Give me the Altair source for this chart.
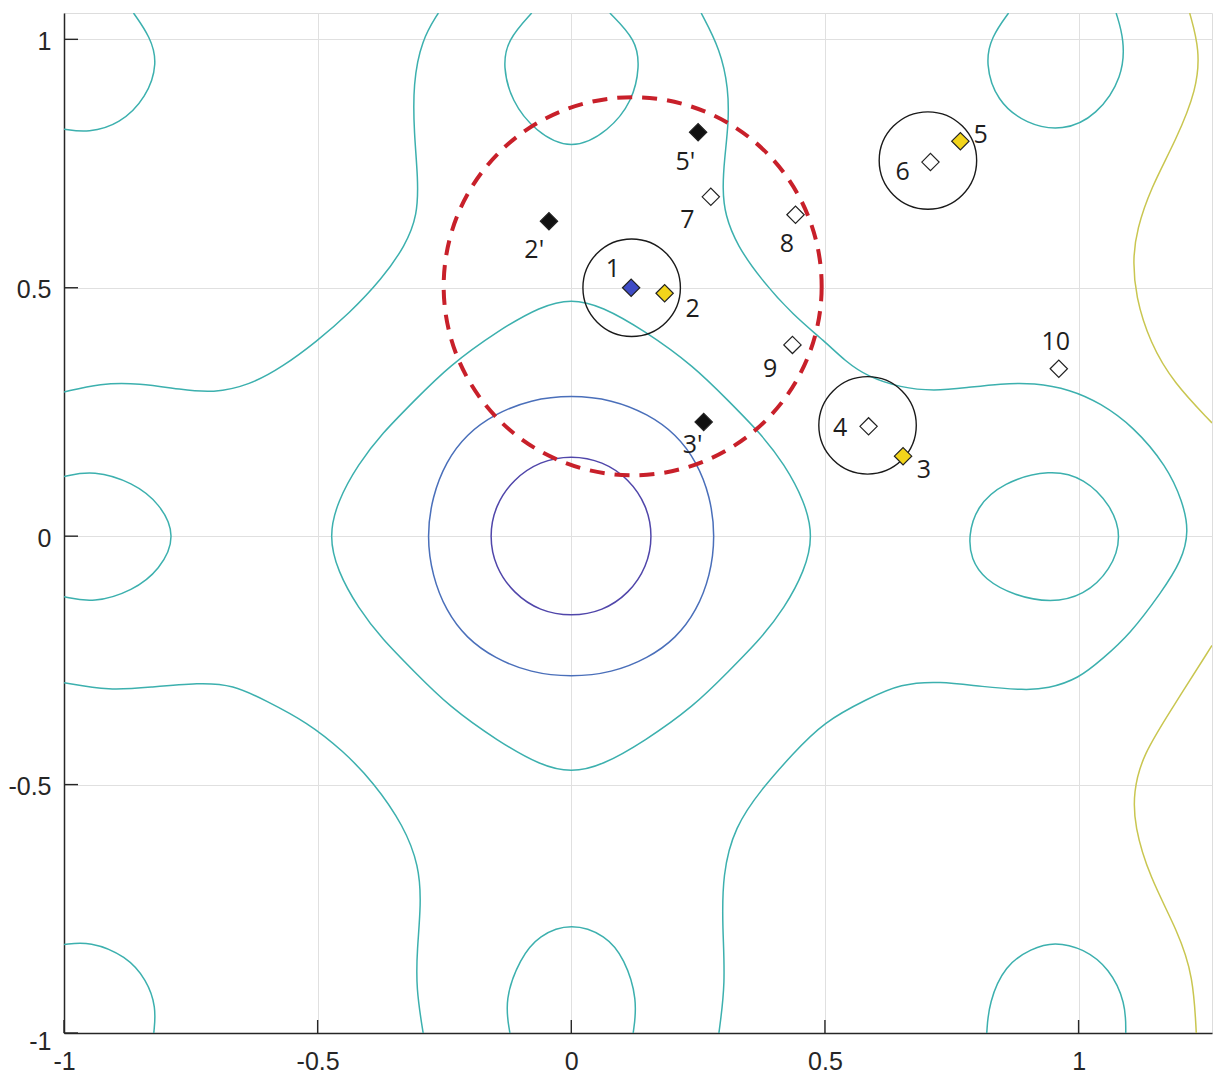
import altair as alt
import pandas as pd

# ---------------- axes ----------------
X_DOMAIN = [-1, 1.263]
Y_DOMAIN = [-1, 1.053]
TICKS = [-1, -0.5, 0, 0.5, 1]

# ---------------- contour curves ----------------
# closed curves
purple_x = [0.0, 0.062, 0.114, 0.149, 0.161, 0.149, 0.114, 0.062, 0.0, -0.062, -0.114, -0.150, -0.162, -0.150, -0.114, -0.062]
purple_y = [0.163, 0.151, 0.115, 0.062, 0.0, -0.062, -0.115, -0.151, -0.162, -0.151, -0.115, -0.062, 0.0, 0.062, 0.115, 0.151]

blue_x = [0.0, 0.080, 0.151, 0.207, 0.247, 0.274, 0.284, 0.274, 0.247, 0.207, 0.151, 0.080,
          0.0, -0.080, -0.151, -0.207, -0.247, -0.274, -0.285, -0.274, -0.247, -0.207, -0.151, -0.080]
blue_y = [0.284, 0.275, 0.246, 0.205, 0.150, 0.080, 0.0, -0.080, -0.150, -0.205, -0.246, -0.275,
          -0.284, -0.275, -0.246, -0.205, -0.150, -0.080, 0.0, 0.080, 0.150, 0.205, 0.246, 0.275]

diamond_x = [0.0, 0.060, 0.144, 0.242, 0.310, 0.373, 0.420, 0.460, 0.477, 0.460, 0.420, 0.373, 0.310, 0.242, 0.144, 0.060,
             0.0, -0.060, -0.144, -0.242, -0.310, -0.373, -0.420, -0.461, -0.478, -0.461, -0.420, -0.373, -0.310, -0.242, -0.144, -0.060]
diamond_y = [0.478, 0.463, 0.414, 0.342, 0.272, 0.207, 0.145, 0.070, 0.0, -0.070, -0.145, -0.207, -0.272, -0.342, -0.413, -0.462,
             -0.476, -0.462, -0.413, -0.342, -0.272, -0.207, -0.145, -0.070, 0.0, 0.070, 0.145, 0.207, 0.272, 0.342, 0.414, 0.463]

rcircle_x = [0.783, 0.798, 0.850, 0.944, 1.012, 1.064, 1.086, 1.064, 1.010, 0.945, 0.874, 0.814, 0.788]
rcircle_y = [0.0, 0.058, 0.108, 0.135, 0.117, 0.062, 0.0, -0.068, -0.120, -0.134, -0.120, -0.087, -0.046]

# open curves (cut by the plot frame)
lcircle_x = [-1.0, -0.942, -0.864, -0.811, -0.778, -0.811, -0.864, -0.942, -1.0]
lcircle_y = [0.120, 0.133, 0.108, 0.066, 0.0, -0.068, -0.110, -0.135, -0.122]

tcircle_x = [-0.078, -0.126, -0.135, -0.118, -0.072, 0.0, 0.074, 0.121, 0.135, 0.128, 0.076]
tcircle_y = [1.053, 0.999, 0.945, 0.876, 0.815, 0.775, 0.815, 0.876, 0.945, 0.999, 1.053]

bcircle_x = [-0.121, -0.132, -0.101, -0.064, 0.0, 0.068, 0.105, 0.131, 0.122]
bcircle_y = [-1.0, -0.933, -0.850, -0.803, -0.778, -0.803, -0.850, -0.933, -1.0]

tl_x = [-0.863, -0.830, -0.815, -0.837, -0.890, -0.952, -1.0]
tl_y = [1.053, 1.005, 0.952, 0.883, 0.829, 0.812, 0.819]

tr_x = [0.862, 0.828, 0.816, 0.838, 0.897, 0.969, 1.036, 1.088, 1.090, 1.074]
tr_y = [1.053, 1.005, 0.952, 0.876, 0.829, 0.815, 0.846, 0.925, 1.000, 1.053]

bl_x = [-1.0, -0.949, -0.877, -0.837, -0.818, -0.823]
bl_y = [-0.822, -0.815, -0.845, -0.893, -0.948, -1.0]

br_x = [0.819, 0.823, 0.855, 0.907, 0.952, 1.010, 1.061, 1.093, 1.093]
br_y = [-1.0, -0.939, -0.863, -0.830, -0.816, -0.830, -0.870, -0.939, -1.0]

netul_x = [-0.262, -0.295, -0.312, -0.310, -0.302, -0.303, -0.327, -0.373, -0.438, -0.503, -0.569, -0.634, -0.706, -0.770, -0.851, -0.929, -1.0]
netul_y = [1.053, 0.999, 0.911, 0.811, 0.720, 0.646, 0.585, 0.518, 0.448, 0.391, 0.341, 0.304, 0.288, 0.295, 0.308, 0.308, 0.290]

netll_x = [-1.0, -0.910, -0.831, -0.733, -0.667, -0.602, -0.520, -0.450, -0.390, -0.330, -0.300, -0.296, -0.304, -0.306, -0.292]
netll_y = [-0.295, -0.311, -0.304, -0.295, -0.299, -0.331, -0.375, -0.432, -0.495, -0.583, -0.664, -0.740, -0.832, -0.910, -1.0]

netr_x = [0.256, 0.294, 0.310, 0.310, 0.302, 0.298, 0.303, 0.327, 0.373, 0.438, 0.500, 0.540, 0.584, 0.649, 0.715, 0.780,
          0.846, 0.912, 0.984, 1.043, 1.108, 1.174, 1.205, 1.218, 1.203, 1.164, 1.100, 1.048, 1.000, 0.939, 0.894, 0.810,
          0.726, 0.649, 0.585, 0.497, 0.435, 0.375, 0.322, 0.298, 0.298, 0.304, 0.291]
netr_y = [1.053, 0.979, 0.900, 0.830, 0.760, 0.700, 0.646, 0.585, 0.518, 0.444, 0.392, 0.352, 0.321, 0.299, 0.292, 0.299,
          0.307, 0.309, 0.295, 0.268, 0.221, 0.141, 0.070, 0.010, -0.050, -0.112, -0.199, -0.246, -0.287, -0.307, -0.310, -0.303,
          -0.292, -0.297, -0.327, -0.374, -0.440, -0.509, -0.585, -0.680, -0.790, -0.899, -1.0]

yelup_x = [1.219, 1.239, 1.233, 1.193, 1.141, 1.115, 1.107, 1.112, 1.141, 1.187, 1.263]
yelup_y = [1.053, 0.979, 0.899, 0.799, 0.698, 0.617, 0.560, 0.483, 0.389, 0.309, 0.228]

yello_x = [1.263, 1.184, 1.126, 1.108, 1.110, 1.139, 1.197, 1.226, 1.232]
yello_y = [-0.220, -0.347, -0.441, -0.515, -0.583, -0.684, -0.798, -0.886, -1.0]

closed_curves = [("purple", "lvl1", purple_x, purple_y), ("blue", "lvl2", blue_x, blue_y),
                 ("diamond", "lvl3", diamond_x, diamond_y), ("rcircle", "lvl3", rcircle_x, rcircle_y)]
open_curves = [("lcircle", "lvl3", lcircle_x, lcircle_y), ("tcircle", "lvl3", tcircle_x, tcircle_y),
               ("bcircle", "lvl3", bcircle_x, bcircle_y), ("tl", "lvl3", tl_x, tl_y), ("tr", "lvl3", tr_x, tr_y),
               ("bl", "lvl3", bl_x, bl_y), ("br", "lvl3", br_x, br_y), ("netul", "lvl3", netul_x, netul_y),
               ("netll", "lvl3", netll_x, netll_y), ("netr", "lvl3", netr_x, netr_y),
               ("yelup", "lvl4", yelup_x, yelup_y), ("yello", "lvl4", yello_x, yello_y)]

LEVELS = ["lvl1", "lvl2", "lvl3", "lvl4"]
LEVEL_COLORS = ["#5046aa", "#4a6fba", "#3cb0ae", "#c9c650"]

# ---------------- markers ----------------
pt_name = ["1", "2", "2'", "3", "3'", "4", "5", "5'", "6", "7", "8", "9", "10"]
pt_x = [0.118, 0.184, -0.044, 0.654, 0.261, 0.586, 0.767, 0.250, 0.708, 0.275, 0.442, 0.436, 0.961]
pt_y = [0.500, 0.489, 0.634, 0.161, 0.230, 0.221, 0.795, 0.813, 0.753, 0.683, 0.647, 0.385, 0.337]
pt_kind = ["blue", "yellow", "black", "yellow", "black", "white", "yellow", "black", "white", "white", "white", "white", "white"]

lab_x = [0.082, 0.239, -0.073, 0.695, 0.239, 0.530, 0.807, 0.225, 0.653, 0.229, 0.425, 0.392, 0.955]
lab_y = [0.538, 0.458, 0.575, 0.134, 0.183, 0.218, 0.807, 0.753, 0.732, 0.636, 0.589, 0.337, 0.391]

KINDS = ["blue", "yellow", "black", "white"]
KIND_COLORS = ["#3f4cc6", "#f2d41a", "#111111", "#ffffff"]

ring_x = [0.119, 0.584, 0.703]
ring_y = [0.500, 0.223, 0.756]

dash_x = [0.121]
dash_y = [0.503]

# ---------------- build tables ----------------
def to_df(curves):
    rows = []
    for name, lvl, xs, ys in curves:
        for i, (a, b) in enumerate(zip(xs, ys)):
            rows.append({"curve": name, "lvl": lvl, "ord": i, "x": a, "y": b})
    return pd.DataFrame(rows)

df_closed = to_df(closed_curves)
df_open = to_df(open_curves)
df_pts = pd.DataFrame({"x": pt_x, "y": pt_y, "kind": pt_kind, "name": pt_name})
df_lab = pd.DataFrame({"x": lab_x, "y": lab_y, "name": pt_name})
df_ring = pd.DataFrame({"x": ring_x, "y": ring_y})
df_dash = pd.DataFrame({"x": dash_x, "y": dash_y})
df_xt = pd.DataFrame({"x": TICKS})
df_yt = pd.DataFrame({"y": TICKS})

W, H = 1148, 1020
AX = "#262626"

x_axis = alt.Axis(values=TICKS, labelExpr="'' + datum.value", grid=True, gridColor="#e0e0e0", gridWidth=1,
                  ticks=False, tickSize=0, domainColor=AX, domainWidth=1.5, labelFont="Liberation Sans",
                  labelFontSize=25, labelColor=AX, labelPadding=16, labelFlush=False, labelOverlap=False)
y_axis = alt.Axis(values=TICKS, labelExpr="'' + datum.value", grid=True, gridColor="#e0e0e0", gridWidth=1,
                  ticks=False, tickSize=0, domainColor=AX, domainWidth=1.5, labelFont="Liberation Sans",
                  labelFontSize=25, labelColor=AX, labelPadding=13, labelFlush=False, labelOverlap=False,
                  labelOffset={"condition": {"test": "datum.value == -1", "value": 8}, "value": 2})

xenc = alt.X("x:Q", scale=alt.Scale(domain=X_DOMAIN, nice=False, zero=False), axis=x_axis, title="")
yenc = alt.Y("y:Q", scale=alt.Scale(domain=Y_DOMAIN, nice=False, zero=False), axis=y_axis, title="")
lvl_color = alt.Color("lvl:N", scale=alt.Scale(domain=LEVELS, range=LEVEL_COLORS), legend=None)

closed_layer = alt.Chart(df_closed).mark_line(interpolate="basis-closed", strokeWidth=1.5, clip=True).encode(
    x=xenc, y=yenc, detail="curve:N", order="ord:Q", color=lvl_color)
open_layer = alt.Chart(df_open).mark_line(interpolate="basis", strokeWidth=1.5, clip=True).encode(
    x=xenc, y=yenc, detail="curve:N", order="ord:Q", color=lvl_color)

dash_layer = alt.Chart(df_dash).mark_point(shape="circle", filled=False, size=142884, color="#c8202a",
                                           strokeWidth=4, strokeDash=[15, 10], opacity=1).encode(x=xenc, y=yenc)
ring_layer = alt.Chart(df_ring).mark_point(shape="circle", filled=False, size=9500, color="#1a1a1a",
                                           strokeWidth=1.4, opacity=1).encode(x=xenc, y=yenc)
pts_layer = alt.Chart(df_pts).mark_point(shape="diamond", filled=True, size=300, stroke="#222222",
                                         strokeWidth=1.2, opacity=1).encode(
    x=xenc, y=yenc, fill=alt.Fill("kind:N", scale=alt.Scale(domain=KINDS, range=KIND_COLORS), legend=None))
lab_layer = alt.Chart(df_lab).mark_text(font="Open Sans", fontSize=25, color="#1e1e1e", align="center",
                                        baseline="middle").encode(x=xenc, y=yenc, text="name:N")
xt_layer = alt.Chart(df_xt).mark_rule(color=AX, strokeWidth=1.4).encode(x=xenc, y=alt.value(H), y2=alt.value(H - 13))
yt_layer = alt.Chart(df_yt).mark_rule(color=AX, strokeWidth=1.4).encode(y=yenc, x=alt.value(0), x2=alt.value(14))

chart = alt.layer(closed_layer, open_layer, dash_layer, ring_layer, pts_layer, lab_layer, xt_layer, yt_layer).properties(
    width=W, height=H, autosize=alt.AutoSizeParams(type="none"),
    padding={"left": 56, "top": 5, "right": 2, "bottom": 45}
).configure_view(stroke="transparent").configure(background="white")

chart.save("out.html", embed_options={"renderer": "svg", "actions": False})
